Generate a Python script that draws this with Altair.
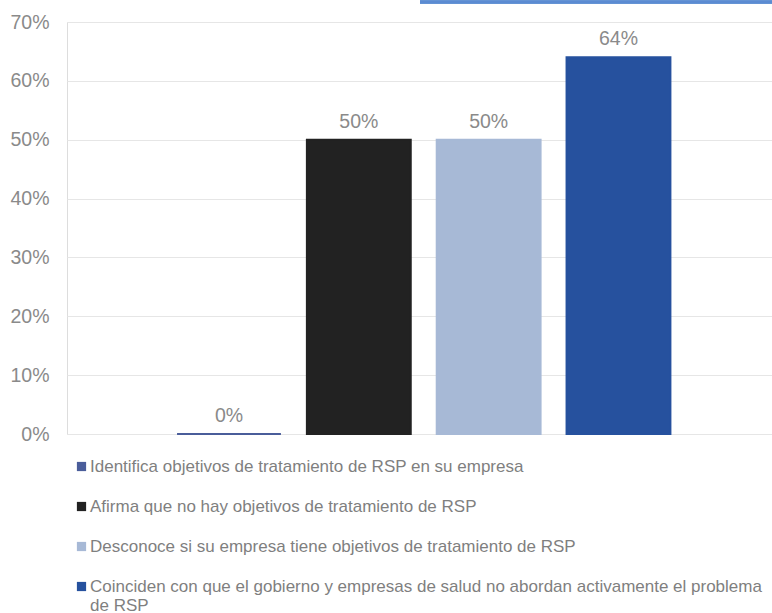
import altair as alt
import pandas as pd

# Survey answers about RSP treatment objectives
categorias = [
    "Identifica objetivos de tratamiento de RSP en su empresa",
    "Afirma que no hay objetivos de tratamiento de RSP",
    "Desconoce si su empresa tiene objetivos de tratamiento de RSP",
    "Coinciden con que el gobierno y empresas de salud no abordan activamente el problema de RSP",
]
valores = [0.00, 0.50, 0.50, 0.64]
colores = ["#4a5d9a", "#222222", "#a7b9d6", "#26519e"]

df = pd.DataFrame({"categoria": categorias, "valor": valores})

FONT = "Liberation Sans"
GRIS = "#8a8a8a"

x_enc = alt.X(
    "categoria:N",
    sort=categorias,
    axis=None,
    scale=alt.Scale(paddingInner=0.2, paddingOuter=0.815, align=0.52),
)
color_scale = alt.Scale(domain=categorias, range=colores)

# the last legend entry wraps onto a second line
ultimo = categorias[-1]
label_expr = (
    f"datum.label == '{ultimo}' ? "
    "['Coinciden con que el gobierno y empresas de salud no abordan activamente el problema', 'de RSP'] "
    ": datum.label"
)

barras = alt.Chart(df).mark_bar(strokeWidth=2).encode(
    x=x_enc,
    y=alt.Y(
        "valor:Q",
        scale=alt.Scale(domain=[0, 0.7], nice=False),
        axis=alt.Axis(
            values=[0, 0.1, 0.2, 0.3, 0.4, 0.5, 0.6, 0.7],
            format=".0%",
            title=None,
            domain=False,
            ticks=False,
            labelPadding=18,
            labelFontSize=19.5,
            labelColor=GRIS,
            labelFont=FONT,
            gridColor="#e6e6e6",
            gridWidth=1,
        ),
    ),
    fill=alt.Fill(
        "categoria:N",
        scale=color_scale,
        sort=categorias,
        legend=alt.Legend(
            title=None,
            orient="none",
            legendX=6,
            legendY=436,
            direction="vertical",
            symbolType="square",
            symbolSize=85,
            symbolStrokeWidth=0,
            labelFont=FONT,
            labelFontSize=17,
            labelColor="#7f7f7f",
            labelLimit=900,
            labelOffset=0,
            rowPadding=22,
            padding=0,
            labelExpr=label_expr,
        ),
    ),
    stroke=alt.Stroke("categoria:N", scale=color_scale, sort=categorias, legend=None),
)

etiquetas = alt.Chart(df).mark_text(
    baseline="alphabetic",
    dy=-12,
    font=FONT,
    fontSize=19.5,
    color=GRIS,
).encode(
    x=x_enc,
    y="valor:Q",
    text=alt.Text("valor:Q", format=".0%"),
)

# thin blue accent line across the top right
acento = alt.Chart(df).mark_rule(color="#5b8bd2", strokeWidth=3).encode(
    x=alt.value(353), x2=alt.value(705), y=alt.value(-20)
)

chart = (
    alt.layer(barras, etiquetas, acento)
    .properties(
        width=705,
        height=412,
        padding={"left": 67, "top": 22, "right": 0, "bottom": 179},
        autosize="none",
    )
    .configure_view(stroke=None)
    .configure(background="white")
)

chart.save("out.html", embed_options={"renderer": "svg", "actions": False})
